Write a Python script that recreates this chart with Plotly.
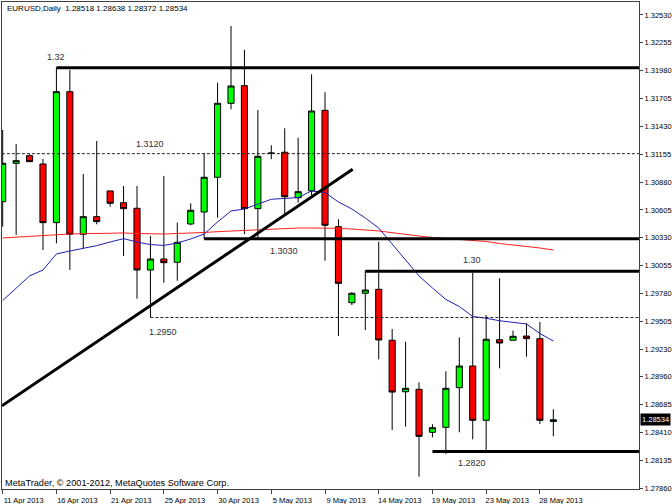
import plotly.graph_objects as go

# ---------------- data ----------------
dates = ["11 Apr 2013", "12 Apr 2013", "14 Apr 2013", "15 Apr 2013", "16 Apr 2013", "17 Apr 2013",
         "18 Apr 2013", "19 Apr 2013", "21 Apr 2013", "22 Apr 2013", "23 Apr 2013", "24 Apr 2013",
         "25 Apr 2013", "26 Apr 2013", "28 Apr 2013", "29 Apr 2013", "30 Apr 2013", "1 May 2013",
         "2 May 2013", "3 May 2013", "5 May 2013", "6 May 2013", "7 May 2013", "8 May 2013",
         "9 May 2013", "10 May 2013", "12 May 2013", "13 May 2013", "14 May 2013", "15 May 2013",
         "16 May 2013", "17 May 2013", "19 May 2013", "20 May 2013", "21 May 2013", "22 May 2013",
         "23 May 2013", "24 May 2013", "26 May 2013", "27 May 2013", "28 May 2013", "29 May 2013"]

open_ = [1.30687, 1.31066, 1.31141, 1.31059, 1.30480, 1.31773, 1.30365, 1.30539, 1.30793, 1.30677,
         1.30622, 1.30013, 1.30121, 1.30089, 1.30467, 1.30585, 1.30928, 1.31658, 1.31832, 1.30618,
         1.31163, 1.31175, 1.30726, 1.30793, 1.31589, 1.30440, 1.29690, 1.29783, 1.29822, 1.29319,
         1.28811, 1.28835, 1.28411, 1.28460, 1.28851, 1.29065, 1.28529, 1.29325, 1.29319, 1.29361,
         1.29335, 1.28518]
high = [1.31395, 1.31257, 1.31155, 1.31109, 1.32014, 1.31987, 1.30960, 1.31286, 1.30795, 1.30842,
        1.30842, 1.30348, 1.30941, 1.30480, 1.30671, 1.31165, 1.31862, 1.32421, 1.32185, 1.31592,
        1.31244, 1.31412, 1.31319, 1.31945, 1.31767, 1.30513, 1.29793, 1.30006, 1.30292, 1.29430,
        1.29305, 1.28904, 1.28490, 1.29013, 1.29348, 1.29986, 1.29568, 1.29931, 1.29414, 1.29487,
        1.29499, 1.28638]
low = [1.30440, 1.30358, 1.31080, 1.30210, 1.30276, 1.30013, 1.30227, 1.30464, 1.30638, 1.30151,
       1.29729, 1.29546, 1.29887, 1.29907, 1.30454, 1.30319, 1.30529, 1.31599, 1.30368, 1.30319,
       1.31106, 1.30563, 1.30677, 1.30753, 1.30105, 1.29361, 1.29667, 1.29420, 1.29131, 1.28433,
       1.28466, 1.27972, 1.28361, 1.28196, 1.28411, 1.28341, 1.28229, 1.29042, 1.29319, 1.29157,
       1.28493, 1.28372]
close = [1.31066, 1.31092, 1.31082, 1.30480, 1.31773, 1.30365, 1.30539, 1.30490, 1.30671, 1.30618,
         1.30013, 1.30121, 1.30085, 1.30286, 1.30602, 1.30928, 1.31658, 1.31829, 1.30618, 1.31135,
         1.31167, 1.30736, 1.30786, 1.31582, 1.30454, 1.29881, 1.29783, 1.29815, 1.29322, 1.28808,
         1.28845, 1.28371, 1.28456, 1.28845, 1.29065, 1.28529, 1.29329, 1.29292, 1.29358, 1.29335,
         1.28529, 1.28534]

ma_fast = [1.29712, 1.29835, 1.29954, 1.30013, 1.30171, 1.30200, 1.30227, 1.30253, 1.30289, 1.30322,
           1.30289, 1.30264, 1.30255, 1.30279, 1.30319, 1.30368, 1.30487, 1.30595, 1.30615, 1.30664,
           1.30711, 1.30719, 1.30728, 1.30793, 1.30778, 1.30684, 1.30615, 1.30526, 1.30427, 1.30269,
           1.30111, 1.29954, 1.29835, 1.29722, 1.29652, 1.29554, 1.29536, 1.29512, 1.29496, 1.29480,
           1.29386, 1.29312]
ma_slow = [1.30329, 1.30338, 1.30348, 1.30355, 1.30363, 1.30368, 1.30371, 1.30375, 1.30378, 1.30378,
           1.30373, 1.30368, 1.30368, 1.30373, 1.30375, 1.30383, 1.30391, 1.30398, 1.30405, 1.30411,
           1.30417, 1.30422, 1.30427, 1.30427, 1.30427, 1.30424, 1.30417, 1.30408, 1.30398, 1.30381,
           1.30368, 1.30348, 1.30334, 1.30324, 1.30314, 1.30304, 1.30294, 1.30274, 1.30260, 1.30245,
           1.30230, 1.30210]

y_ticks = [1.32530, 1.32255, 1.31980, 1.31705, 1.31430, 1.31155, 1.30880, 1.30605, 1.30330,
           1.30055, 1.29780, 1.29505, 1.29230, 1.28960, 1.28685, 1.28410, 1.28135, 1.27860]

# support / resistance levels (solid) and their first bar
solid_levels = [1.32010, 1.30322, 1.30000, 1.28221]
solid_start = [4, 15, 27, 32]
solid_labels = ["1.32", "1.3030", "1.30", "1.2820"]
# dotted levels
dotted_levels = [1.31161, 1.29544]
dotted_start = [-0.06, 11]
dotted_labels = ["1.3120", "1.2950"]
# trend line (bar index, price)
trend_x = [-0.06, 26.06]
trend_y = [1.28672, 1.31007]

last_price = 1.28534
title_text = "EURUSD,Daily\u00a0 1.28518 1.28638 1.28372 1.28534"

# ---------------- figure ----------------
idx = list(range(len(dates)))
X_MIN, X_MAX = -0.052, 47.38
Y_MIN, Y_MAX = 1.27851, 1.32658

fig = go.Figure()
fig.add_trace(go.Candlestick(
    x=idx, open=open_, high=high, low=low, close=close, text=dates,
    increasing=dict(fillcolor="#00FF00", line=dict(color="#000000", width=1)),
    decreasing=dict(fillcolor="#FF0000", line=dict(color="#000000", width=1)),
    whiskerwidth=0, showlegend=False, hoverinfo="skip"))
fig.add_trace(go.Scatter(x=idx, y=ma_slow, mode="lines",
                         line=dict(color="#FF2020", width=1), showlegend=False, hoverinfo="skip"))
fig.add_trace(go.Scatter(x=idx, y=ma_fast, mode="lines",
                         line=dict(color="#2020B0", width=1), showlegend=False, hoverinfo="skip"))

shapes = []
for v, s in zip(solid_levels, solid_start):
    shapes.append(dict(type="line", xref="x", yref="y", x0=s, x1=X_MAX, y0=v, y1=v,
                       line=dict(color="#000000", width=3)))
for v, s in zip(dotted_levels, dotted_start):
    shapes.append(dict(type="line", xref="x", yref="y", x0=s, x1=X_MAX, y0=v, y1=v,
                       line=dict(color="#202020", width=1, dash="3px,2px")))
shapes.append(dict(type="line", xref="x", yref="y", x0=trend_x[0], x1=trend_x[1],
                   y0=trend_y[0], y1=trend_y[1], line=dict(color="#000000", width=3)))

label_font = dict(family="Liberation Sans, Arial, sans-serif", size=9, color="#303030")
annotations = []
# labels for levels
label_pos = {"1.32": (3.97, 1.32120), "1.3030": (20.98, 1.30200), "1.30": (34.98, 1.30109),
             "1.2820": (34.98, 1.28105), "1.3120": (10.97, 1.31260), "1.2950": (11.94, 1.29401)}
for lab in solid_labels + dotted_labels:
    px, py = label_pos[lab]
    annotations.append(dict(x=px, y=py, xref="x", yref="y", text=lab, showarrow=False,
                            font=label_font, xanchor="center", yanchor="middle"))
annotations.append(dict(x=0, xref="paper", xshift=3, y=0.9866, yref="paper", text=title_text,
                        showarrow=False, xanchor="left", yanchor="middle",
                        font=dict(family="Liberation Sans, Arial, sans-serif", size=8, color="#000000")))
annotations.append(dict(x=0, xref="paper", xshift=1, y=0.0125, yref="paper",
                        text="MetaTrader, © 2001-2012, MetaQuotes Software Corp.",
                        showarrow=False, xanchor="left", yanchor="middle",
                        font=dict(family="Liberation Sans, Arial, sans-serif", size=9.2, color="#000000")))
annotations.append(dict(x=1, xref="paper", xshift=1, y=last_price, yref="y",
                        text="%.5f" % last_price, showarrow=False, xanchor="left", yanchor="middle",
                        bgcolor="#000000", borderpad=1,
                        font=dict(family="Liberation Sans, Arial, sans-serif", size=7.5, color="#FFFFFF")))

fig.update_layout(
    width=672, height=504,
    margin=dict(l=2, r=33, t=2, b=15, autoexpand=False),
    paper_bgcolor="#FFFFFF", plot_bgcolor="#FFFFFF",
    boxgap=0.35,
    shapes=shapes, annotations=annotations,
    font=dict(family="Liberation Sans, Arial, sans-serif", size=8, color="#000000"),
    showlegend=False,
)
fig.update_xaxes(
    range=[X_MIN, X_MAX], showgrid=False, zeroline=False,
    rangeslider=dict(visible=False),
    tickmode="array", tickvals=idx[::4], ticktext=dates[::4],
    ticks="outside", ticklen=4, tickcolor="#404040",
    ticklabelshift=21, tickfont=dict(size=7.5),
    showline=True, linecolor="#404040", linewidth=1, mirror=True,
)
fig.update_yaxes(
    range=[Y_MIN, Y_MAX], side="right", showgrid=False, zeroline=False,
    tickmode="array", tickvals=y_ticks, ticktext=["%.5f" % v for v in y_ticks],
    ticks="outside", ticklen=3, tickcolor="#404040", tickfont=dict(size=7.5),
    showline=True, linecolor="#404040", linewidth=1, mirror=True,
)

fig.write_html("out.html", config={"displayModeBar": False},
               post_script="document.body.style.margin='0';document.body.style.overflow='hidden';")
